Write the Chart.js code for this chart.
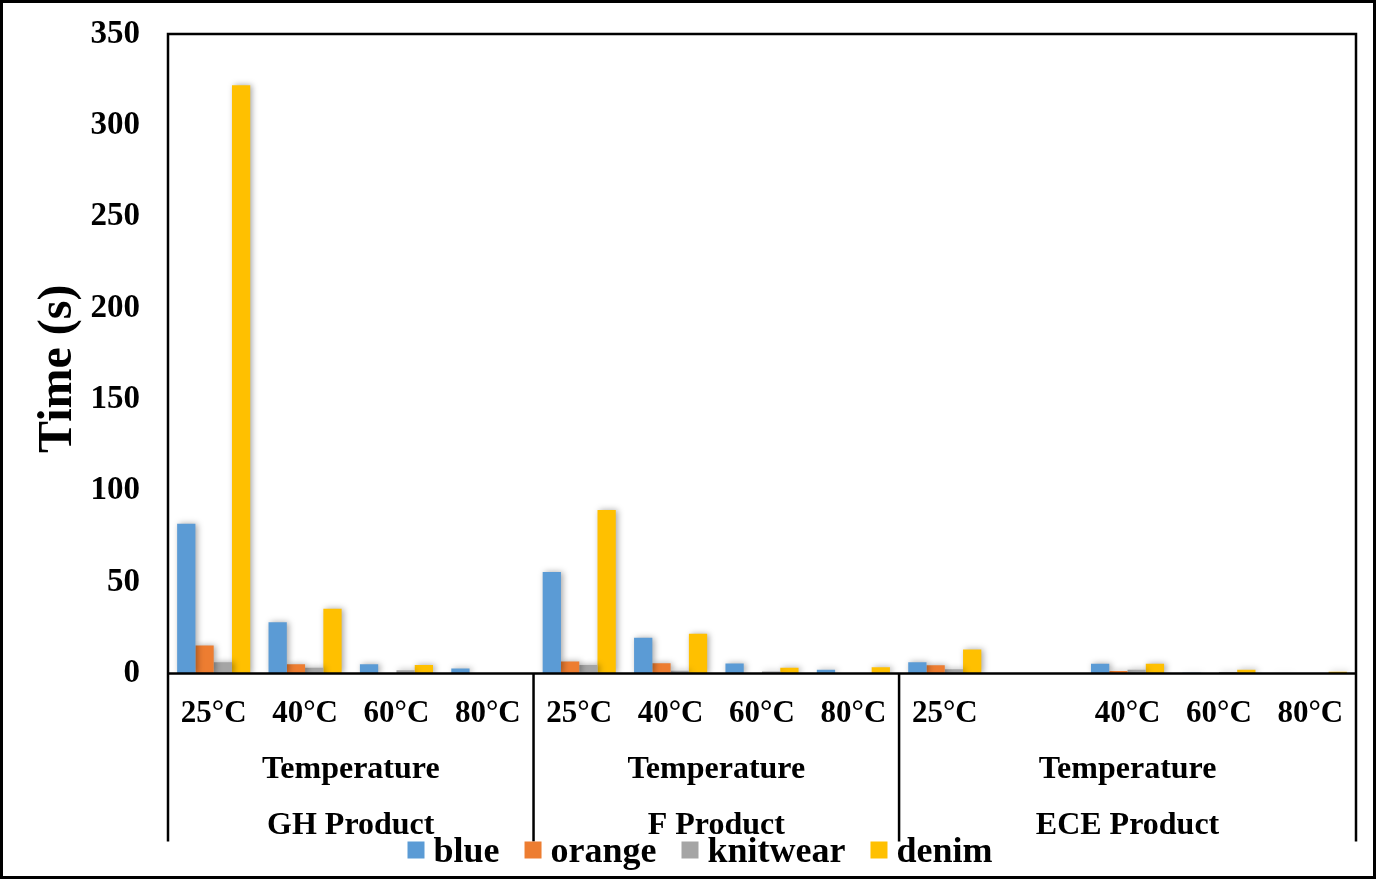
<!DOCTYPE html>
<html>
<head>
<meta charset="utf-8">
<script src="https://cdn.jsdelivr.net/npm/chart.js@4.4.0/dist/chart.umd.min.js"></script>
<style>
  html, body { margin: 0; padding: 0; background: #fff; }
  canvas { display: block; }
</style>
</head>
<body>
<canvas id="c" width="1376" height="879"></canvas>
<script>
// ---- data ----
const categories = ['25°C','40°C','60°C','80°C','25°C','40°C','60°C','80°C','25°C','','40°C','60°C','80°C'];
const groupNames = ['GH Product','F Product','ECE Product'];
const groupSizes = [4, 4, 5];
const subGroupLabel = 'Temperature';
const seriesNames = ['blue','orange','knitwear','denim'];
const blueVals     = [82.0, 28.0, 5.1, 2.7, 55.5, 19.5, 5.5, 2.0, 6.2, null, 5.4, 0.4, 0.2];
const orangeVals   = [15.3, 5.0, 0, 0, 6.6, 5.6, 0, 0, 4.5, null, 1.4, 0, 0];
const knitwearVals = [6.2, 3.1, 1.8, 0, 4.7, 1.5, 1.1, 0, 2.3, null, 2.1, 0.8, 0];
const denimVals    = [322, 35.4, 4.7, 0, 89.5, 21.7, 3.1, 3.4, 13.2, null, 5.4, 2.1, 1.0];
const yTicks = [0, 50, 100, 150, 200, 250, 300, 350];
const yTitle = 'Time (s)';

const FONT = "'Liberation Serif', 'Times New Roman', serif";
const colors = ['#5B9BD5', '#ED7D31', '#A5A5A5', '#FFC000'];

const shadowPlugin = {
  id: 'barShadow',
  beforeDatasetsDraw(chart) {
    const ctx = chart.ctx;
    ctx.save();
    ctx.shadowColor = 'rgba(0,0,0,0.35)';
    ctx.shadowBlur = 6;
    ctx.shadowOffsetX = 2;
    ctx.shadowOffsetY = 0;
  },
  afterDatasetsDraw(chart) {
    chart.ctx.restore();
  }
};

const framePlugin = {
  id: 'frame',
  afterDraw(chart) {
    const ctx = chart.ctx;
    const a = chart.chartArea;
    const xs = chart.scales.x;
    const lineBottom = a.bottom + 168;
    ctx.save();
    ctx.strokeStyle = '#000';
    ctx.lineWidth = 2.5;
    ctx.beginPath();
    ctx.moveTo(a.left, lineBottom); ctx.lineTo(a.left, a.top);
    ctx.lineTo(a.right, a.top); ctx.lineTo(a.right, lineBottom);
    ctx.moveTo(a.left, a.bottom); ctx.lineTo(a.right, a.bottom);
    let idx = 0;
    const half = (xs.getPixelForValue(1) - xs.getPixelForValue(0)) / 2;
    const bounds = [];
    for (let g = 0; g < groupSizes.length; g++) {
      const start = xs.getPixelForValue(idx) - half;
      const end = xs.getPixelForValue(idx + groupSizes[g] - 1) + half;
      bounds.push([start, end]);
      idx += groupSizes[g];
      if (g < groupSizes.length - 1) {
        ctx.moveTo(end, a.bottom); ctx.lineTo(end, lineBottom);
      }
    }
    ctx.stroke();
    // group labels
    ctx.fillStyle = '#000';
    ctx.font = 'bold 32px ' + FONT;
    ctx.textAlign = 'center';
    ctx.textBaseline = 'middle';
    bounds.forEach((b, g) => {
      const cx = (b[0] + b[1]) / 2;
      ctx.fillText(subGroupLabel, cx, a.bottom + 96);
      ctx.fillText(groupNames[g], cx, a.bottom + 152);
    });
    // y axis title
    ctx.save();
    ctx.font = 'bold 48px ' + FONT;
    ctx.translate(59, (a.top + a.bottom) / 2 + 15);
    ctx.rotate(-Math.PI / 2);
    ctx.fillText(yTitle, 0, 0);
    ctx.restore();
    // legend
    ctx.font = 'bold 36px ' + FONT;
    ctx.textAlign = 'left';
    ctx.textBaseline = 'alphabetic';
    const box = 17, gapText = 9, gapItem = 25;
    const widths = seriesNames.map(n => ctx.measureText(n).width);
    const total = widths.reduce((s, w) => s + box + gapText + w, 0) + gapItem * (seriesNames.length - 1);
    let lx = chart.width / 2 + 12 - total / 2;
    const ly = a.bottom + 168;
    seriesNames.forEach((n, i) => {
      ctx.fillStyle = colors[i];
      ctx.fillRect(lx, ly, box, box);
      ctx.fillStyle = '#000';
      ctx.fillText(n, lx + box + gapText, ly + 20);
      lx += box + gapText + widths[i] + gapItem;
    });
    // outer border
    ctx.lineWidth = 3;
    ctx.strokeStyle = '#000';
    ctx.strokeRect(1.5, 1.5, chart.width - 3, chart.height - 3);
    ctx.restore();
  }
};

new Chart(document.getElementById('c'), {
  type: 'bar',
  data: {
    labels: categories,
    datasets: [
      { label: seriesNames[0], data: blueVals, backgroundColor: colors[0] },
      { label: seriesNames[1], data: orangeVals, backgroundColor: colors[1] },
      { label: seriesNames[2], data: knitwearVals, backgroundColor: colors[2] },
      { label: seriesNames[3], data: denimVals, backgroundColor: colors[3] }
    ]
  },
  options: {
    responsive: false,
    animation: false,
    devicePixelRatio: 1,
    datasets: { bar: { categoryPercentage: 0.8, barPercentage: 1.0 } },
    layout: { padding: { left: 0, top: 34, right: 20, bottom: 0 } },
    plugins: {
      tooltip: { enabled: false },
      legend: { display: false }
    },
    scales: {
      x: {
        grid: { display: false, drawTicks: false },
        border: { display: false },
        ticks: {
          autoSkip: false, maxRotation: 0, minRotation: 0,
          padding: 22,
          color: '#000',
          font: { family: FONT, size: 31, weight: 'bold' }
        },
        afterFit(scale) { scale.height = 205.5; scale.paddingLeft = 0; scale.paddingRight = 0; }
      },
      y: {
        min: 0, max: 350,
        grid: { display: false, drawTicks: false },
        border: { display: false },
        afterBuildTicks(scale) { scale.ticks = yTicks.map(v => ({ value: v })); },
        ticks: {
          padding: 28,
          color: '#000',
          font: { family: FONT, size: 33, weight: 'bold' }
        },
        afterFit(scale) { scale.width = 168; scale.paddingTop = 0; scale.paddingBottom = 0; }
      }
    }
  },
  plugins: [shadowPlugin, framePlugin]
});
</script>
</body>
</html>
